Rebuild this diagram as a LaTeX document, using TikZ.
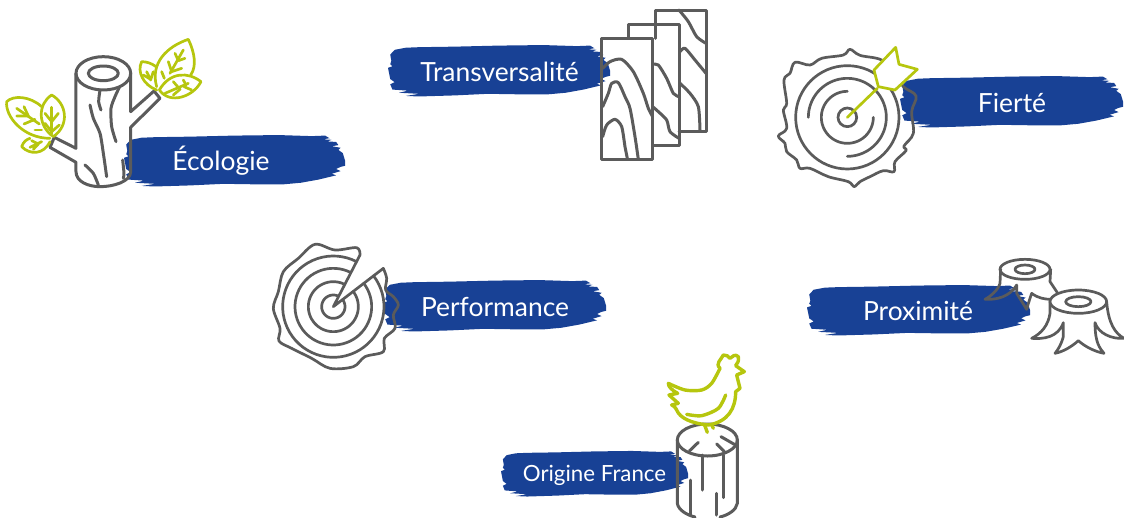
\documentclass[tikz,border=0pt]{standalone}
\usepackage{fontspec}
\setmainfont{Lato}
\definecolor{brushblue}{HTML}{184195}
\definecolor{woodgrey}{HTML}{5B5B5B}
\definecolor{leafgreen}{HTML}{B6C60E}
\newcommand{\brushmark}[4]{%
\begin{scope}[shift={(#1,#2)},xscale=#3/100,yscale=#4/100]
\fill[brushblue] (1.5,32) -- (1,20) -- (3,11) -- (8,7) -- (14,6) -- (30,5) -- (50,3) -- (70,2) -- (85,4) -- (91,3) -- (93,8) -- (90,10) -- (94,11) -- (92,14) -- (96,15) -- (97,21) -- (94,23) -- (98,26) -- (97,30) -- (99,36) -- (100,50) -- (100,60) -- (98,62) -- (96,66) -- (98,70) -- (94,75) -- (96,78) -- (92,82) -- (88,86) -- (80,92) -- (72,95) -- (60,95) -- (45,94) -- (30,97) -- (14,99) -- (8,98) -- (14,94) -- (5,92) -- (9,88) -- (2,86) -- (1,76) -- (3,72) -- (1,66) -- (0,45) -- (2,42) -- (1,38) -- cycle;
\end{scope}}
\tikzset{
  wood/.style={draw=woodgrey,line width=3pt,line cap=round,line join=round},
  thinwood/.style={wood,line width=2.7pt},
  leaf/.style={draw=leafgreen,line width=2.7pt,line cap=round,line join=round},
  hen/.style={leaf,line width=3.4pt},
  brushlabel/.style={text=white,inner sep=0pt,anchor=center},
  zoomed/.style={shift={(#1)},scale=1/3},
  wavy/.style={smooth,tension=0.45},
}
\begin{document}
\begin{tikzpicture}[x=1pt,y=-1pt]
\useasboundingbox (0,0) rectangle (1124,517);
% brush marks
\brushmark{124}{134}{221}{53}
\brushmark{388}{44}{222}{53}
\brushmark{900}{75}{223}{53}
\brushmark{383}{279}{223}{53}
\brushmark{807}{284}{223}{52}
\brushmark{501}{450}{187}{47}
% labels
\node[brushlabel,font=\fontsize{26.4}{30}\selectfont] (ecologie) at (221,161) {Écologie};
\node[brushlabel,font=\fontsize{26.4}{30}\selectfont] (transversalite) at (499.5,72) {Transversalité};
\node[brushlabel,font=\fontsize{26.4}{30}\selectfont] (fierte) at (1012,103) {Fierté};
\node[brushlabel,font=\fontsize{26.4}{30}\selectfont] (performance) at (495,307) {Performance};
\node[brushlabel,font=\fontsize{26.4}{30}\selectfont] (proximite) at (918,311) {Proximité};
\node[brushlabel,font=\fontsize{22.3}{26}\selectfont] (origine) at (594.5,475) {Origine France};
% Ecologie icon
\begin{scope}[zoomed={0,30}]
\draw[wood] (310,130) ellipse [x radius=82,y radius=50];
\draw[wood] (310,130) ellipse [x radius=45,y radius=22];
\draw[wood] (392,130) -- (392,245) -- (462,183) -- (480,205) -- (392,292) -- (392,425) .. controls (392,455) and (340,470) .. (300,470) .. controls (265,470) and (228,455) .. (228,425) -- (228,397) -- (150,352) -- (163,322) -- (228,355) -- (228,130);
\draw[wood] plot[wavy] coordinates {(358,172) (345,200) (333,235) (335,290) (348,335)};
\draw[wood] plot[wavy] coordinates {(270,225) (280,265) (300,310) (310,370) (320,440)};
\draw[wood] plot[wavy] coordinates {(255,405) (280,430) (295,465)};
\draw[wood] plot[wavy] coordinates {(300,180) (296,215) (303,240)};
\draw[wood] plot[wavy] coordinates {(368,390) (372,430) (370,445)};
% right leaves
\draw[leaf] (470,170) .. controls (450,100) and (500,50) .. (565,28) .. controls (585,70) and (590,110) .. (572,135);
\draw[leaf] (468,110) .. controls (455,100) and (440,95) .. (425,95) .. controls (410,125) and (430,165) .. (470,180);
\draw[leaf] (478,180) .. controls (510,125) and (565,125) .. (603,155) .. controls (580,200) and (510,225) .. (478,180);
\draw[leaf] (510,130) -- (550,60);
\draw[leaf] (505,95) -- (515,125) -- (545,115);
\draw[leaf] (525,70) -- (535,92) -- (555,85);
\draw[leaf] (485,125) -- (493,145);
\draw[leaf] (495,190) -- (565,160);
\draw[leaf] (520,155) -- (540,178) -- (520,195);
\draw[leaf] (550,150) -- (558,165) (575,180) -- (552,170);
\draw[leaf] (440,125) -- (452,150) (430,135) -- (452,148) (460,125) -- (452,150);
% left leaves
\draw[leaf] (125,230) .. controls (90,198) and (40,195) .. (20,215) .. controls (15,260) and (70,325) .. (150,325);
\draw[leaf] (160,320) .. controls (110,285) and (115,220) .. (155,195) .. controls (200,220) and (210,285) .. (160,320);
\draw[leaf] (65,350) .. controls (70,335) and (80,328) .. (90,325) (65,350) .. controls (90,375) and (130,375) .. (150,335);
\draw[leaf] (155,232) -- (155,312);
\draw[leaf] (135,250) -- (155,275) (175,250) -- (155,275) (135,280) -- (155,305) (178,285) -- (155,305);
\draw[leaf] (50,235) -- (118,282);
\draw[leaf] (72,230) -- (85,258) (50,258) -- (85,258) (105,268) -- (72,282);
\draw[leaf] (105,300) -- (125,300);
\draw[leaf] (90,352) -- (125,335) (95,332) -- (115,342) (100,358) -- (115,342);
\end{scope}
% Transversalite icon
\begin{scope}[zoomed={380,0}]
\draw[wood] (827,115) -- (827,30) -- (978,30) -- (978,393) -- (897,393);
\draw[wood] plot[wavy] coordinates {(897,30) (925,65) (950,110) (978,130)};
\draw[wood] plot[wavy] coordinates {(900,155) (915,145) (945,180) (978,220)};
\draw[wood] plot[wavy] coordinates {(900,250) (930,280) (955,320) (960,390)};
\draw[wood] (745,115) -- (745,73) -- (897,73) -- (897,435) -- (818,435);
\draw[wood] plot[wavy] coordinates {(818,193) (835,195) (860,235) (880,280) (897,290)};
\draw[wood] plot[wavy] coordinates {(818,320) (835,335) (860,360) (870,395) (897,415)};
\draw[wood] (665,115) rectangle (818,478);
\draw[wood] plot[wavy] coordinates {(668,205) (690,185) (725,178) (760,215) (790,280) (805,325) (818,350)};
\draw[wood] plot[wavy] coordinates {(668,320) (685,280) (695,250) (715,248) (735,290) (750,325) (765,410) (775,478)};
\draw[wood] plot[wavy] coordinates {(668,410) (680,375) (705,358) (725,380) (735,440) (742,475)};
\end{scope}
% Fierte icon
\begin{scope}[zoomed={770,40}]
\draw[thinwood] plot[smooth cycle,tension=0.6] coordinates {(240,28) (270,46) (335,60) (375,100) (400,140) (438,168) (425,215) (430,280) (402,318) (408,332) (375,365) (372,395) (340,392) (300,410) (270,425) (252,440) (235,425) (175,410) (120,385) (90,385) (80,360) (50,335) (45,310) (25,288) (50,265) (40,210) (50,190) (42,120) (60,100) (75,67) (120,75) (155,55) (220,45)};
\draw[thinwood] (232,232) circle [radius=155];
\draw[thinwood] (232,232) circle [radius=28];
\draw[thinwood] plot[domain=-90:-360,samples=60] ({232+78*cos(\x)},{232+78*sin(\x)});
\draw[thinwood] plot[domain=180:450,samples=60] ({232+117*cos(\x)},{232+117*sin(\x)});
\draw[leaf] (232,232) -- (322,145);
\draw[leaf,fill=white] (312,90) -- (377,22) -- (387,73) -- (442,88) -- (375,150) -- (325,140) -- cycle;
\end{scope}
% Performance icon
\begin{scope}[zoomed={265,235}]
\draw[thinwood] (205,215) -- (355,100) -- plot[smooth,tension=0.55] coordinates {(355,100) (365,130) (362,165) (385,185) (400,210) (385,240) (390,280) (358,310) (355,350) (300,365) (265,395) (195,400) (140,370) (80,340) (42,318) (45,280) (25,220) (40,170) (55,110) (100,70) (150,28) (210,45) (275,38) (285,60)} -- (205,215);
\draw[thinwood] plot[domain=-37.5:296.6,samples=60] ({205+35*cos(\x)},{215+35*sin(\x)});
\draw[thinwood] plot[domain=-37.5:296.6,samples=60] ({205+75*cos(\x)},{215+75*sin(\x)});
\draw[thinwood] plot[domain=-37.5:296.6,samples=60] ({205+115*cos(\x)},{215+115*sin(\x)});
\draw[thinwood] plot[domain=-37.5:296.6,samples=60] ({205+152*cos(\x)},{215+152*sin(\x)});
\end{scope}
% Proximite icon
\begin{scope}[zoomed={800,250}]
\draw[thinwood] (675,58) ellipse [x radius=75,y radius=30];
\draw[thinwood] (675,58) ellipse [x radius=30,y radius=13];
\draw[thinwood] (602,58) -- (600,100) .. controls (595,120) and (570,140) .. (555,148) .. controls (590,150) and (630,140) .. (650,105) -- (650,130) -- (680,178) .. controls (685,160) and (690,145) .. (695,130) .. controls (715,145) and (735,148) .. (755,148);
\draw[thinwood] (752,58) -- (750,95) -- (772,128);
\draw[thinwood,fill=white] (750,155) -- (750,190) .. controls (745,225) and (725,250) .. (695,265) .. controls (730,268) and (775,262) .. (790,218) -- (790,260) .. controls (785,280) and (775,298) .. (765,310) .. controls (790,305) and (815,290) .. (835,272) .. controls (855,290) and (885,305) .. (912,310) .. controls (900,295) and (885,280) .. (885,218) .. controls (895,250) and (935,268) .. (972,265) .. controls (945,250) and (925,220) .. (920,155) -- cycle;
\draw[thinwood,fill=white] (835,155) ellipse [x radius=85,y radius=35];
\draw[thinwood] (835,155) ellipse [x radius=38,y radius=15];
\end{scope}
% Origine France icon
\begin{scope}[zoomed={495,345}]
\draw[wood] (637,285) ellipse [x radius=90,y radius=48];
\draw[wood] (547,285) -- (547,475) .. controls (550,495) and (575,510) .. (600,516);
\draw[wood] (727,285) -- (727,475) .. controls (724,495) and (700,510) .. (675,516);
\draw[wood] (585,405) -- (585,510) (623,330) -- (623,435) (685,330) -- (685,458) (665,445) -- (665,510);
\draw[wood] (583,318) -- (610,292) (678,275) -- (718,298) (665,297) -- (688,320);
\draw[hen] plot[smooth,tension=0.5] coordinates {(520,115) (570,135) (620,135) (650,115) (675,70)};
\draw[hen] (675,70) .. controls (660,55) and (678,45) .. (685,30) .. controls (695,28) and (700,35) .. (705,40) .. controls (712,35) and (720,25) .. (730,35) .. controls (732,48) and (728,55) .. (722,62) -- (748,80) -- (725,90) -- (735,130) -- (722,140) .. controls (722,190) and (700,230) .. (640,240) .. controls (590,235) and (555,220) .. (545,195) .. controls (540,185) and (535,182) .. (530,180) -- (550,175) -- (522,150) -- (548,145) .. controls (530,135) and (520,125) .. (520,115);
\draw[hen] plot[smooth,tension=0.5] coordinates {(692,150) (670,190) (620,212) (575,208)};
\draw[hen] (628,238) -- (637,262) (650,240) -- (655,250);
\end{scope}
\end{tikzpicture}
\end{document}
